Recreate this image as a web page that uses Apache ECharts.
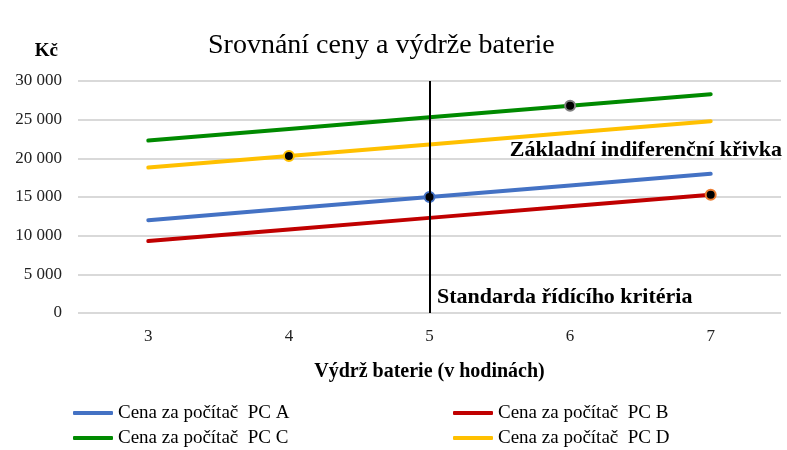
<!DOCTYPE html>
<html>
<head>
<meta charset="utf-8">
<script src="https://cdn.jsdelivr.net/npm/echarts@6/dist/echarts.min.js"></script>
<style>
html,body{margin:0;padding:0;background:#fff;}
#chart{width:787px;height:450px;}
</style>
</head>
<body>
<div id="chart"></div>
<script>
//data
var hodiny = ['3','4','5','6','7'];
var pcA = [12000,13500,15000,16500,18000];
var pcB = [9300,10800,12300,13800,15300];
var pcC = [22300,23800,25300,26800,28300];
var pcD = [18800,20300,21800,23300,24800];
//index of the highlighted point for each series
var bodA = 2, bodB = 4, bodC = 3, bodD = 1;
var nazvy = ['Cena za počítač  PC A','Cena za počítač  PC B','Cena za počítač  PC C','Cena za počítač  PC D'];
var standarda = 2;//index of "5"

var FONT = '"Liberation Serif","DejaVu Serif",serif';

//build data with one marked point
function body(arr,idx,border){
	return arr.map(function(v,i){
		if(i===idx){
			return {value:v,symbol:'circle',symbolSize:10,itemStyle:{color:'#000',borderColor:border,borderWidth:2}};
		}
		return {value:v,symbolSize:0};
	});
}
function serie(name,arr,color,idx,border){
	return {
		name:name,type:'line',data:body(arr,idx,border),
		symbol:'circle',symbolSize:0,
		lineStyle:{color:color,width:4,cap:'round'},
		itemStyle:{color:color},
		emphasis:{disabled:true},
		z:3
	};
}

var chart = echarts.init(document.getElementById('chart'));
var sA = serie(nazvy[0],pcA,'#4472C4',bodA,'#4472C4');
var sB = serie(nazvy[1],pcB,'#C00000',bodB,'#ED7D31');
var sC = serie(nazvy[2],pcC,'#008A00',bodC,'#808080');
var sD = serie(nazvy[3],pcD,'#FFC000',bodD,'#FFC000');
//vertical line of the criterion
sA.markLine = {
	silent:true,symbol:'none',
	label:{show:false},
	lineStyle:{color:'#000',width:2,type:'solid'},
	data:[{xAxis:standarda}]
};
sA.z = 4;

var legendBase = {
	orient:'vertical',top:403,padding:0,itemGap:5,itemWidth:40,itemHeight:4,icon:'roundRect',
	textStyle:{fontFamily:FONT,fontSize:19,lineHeight:20,color:'#000'}
};
var option = {
	animation:false,
	title:{text:'Srovnání ceny a výdrže baterie',left:203,top:27,
		textStyle:{fontFamily:FONT,fontSize:28,fontWeight:'normal',color:'#000'}},
	grid:{left:78,right:6,top:81,bottom:137},
	legend:[
		Object.assign({left:73,data:[nazvy[0],nazvy[2]]},legendBase),
		Object.assign({left:453,data:[nazvy[1],nazvy[3]]},legendBase)
	],
	xAxis:{
		type:'category',data:hodiny,boundaryGap:true,
		axisLine:{show:false},axisTick:{show:false},
		axisLabel:{fontFamily:FONT,fontSize:17,color:'#222',margin:15},
		name:'Výdrž baterie (v hodinách)',nameLocation:'middle',nameGap:49,
		nameTextStyle:{fontFamily:FONT,fontSize:20,fontWeight:'bold',color:'#000'}
	},
	yAxis:{
		type:'value',min:0,max:30000,interval:5000,
		axisLine:{show:false},axisTick:{show:false},
		splitLine:{lineStyle:{color:'#d9d9d9',width:2}},
		axisLabel:{fontFamily:FONT,fontSize:17,color:'#222',margin:16,
			formatter:function(v){return v===0?'0':String(v).replace(/\B(?=(\d{3})+(?!\d))/g,' ');}},
		name:'Kč',nameLocation:'end',nameGap:20,
		nameTextStyle:{fontFamily:FONT,fontSize:19,fontWeight:'bold',color:'#000',align:'right',padding:[0,20,0,0]}
	},
	graphic:[
		{type:'text',right:5,top:139,style:{text:'Základní indiferenční křivka',
			font:'bold 22px "Liberation Serif", serif',fill:'#000'}},
		{type:'text',left:437,top:286,style:{text:'Standarda řídícího kritéria',
			font:'bold 22px "Liberation Serif", serif',fill:'#000'}}
	],
	series:[sA,sB,sC,sD]
};
chart.setOption(option);
</script>
</body>
</html>
